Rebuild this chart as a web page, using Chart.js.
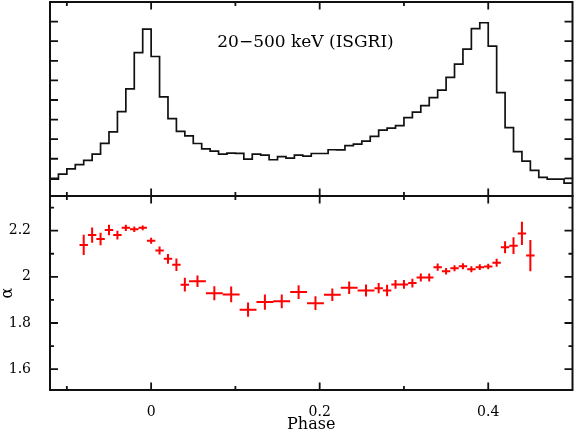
<!DOCTYPE html>
<html>
<head>
<meta charset="utf-8">
<script src="https://cdn.jsdelivr.net/npm/chart.js@4"></script>
<style>
html,body{margin:0;padding:0;background:#fff;overflow:hidden}
#wrap{position:relative;width:574px;height:431px;background:#fff}
#c1{position:absolute;left:0;top:0}
#c2{position:absolute;left:0;top:192px}
</style>
</head>
<body>
<div id="wrap">
<canvas id="c1" width="574" height="200"></canvas>
<canvas id="c2" width="574" height="239"></canvas>
</div>
<script>
// ---------- data ----------
const panelTitle = '20\u2212500 keV (ISGRI)';
const xAxisTitle = 'Phase';
const yAxisTitle = '\u03b1';

const phaseMin = -0.12;
const phaseMax = 0.5;

// light curve (histogram), bin lower edges and relative rate
const histPhaseLo = [-0.12,-0.11,-0.10,-0.09,-0.08,-0.07,-0.06,-0.05,-0.04,-0.03,-0.02,-0.01,
  0.00,0.01,0.02,0.03,0.04,0.05,0.06,0.07,0.08,0.09,0.10,0.11,0.12,0.13,0.14,0.15,0.16,0.17,0.18,0.19,
  0.20,0.21,0.22,0.23,0.24,0.25,0.26,0.27,0.28,0.29,0.30,0.31,0.32,0.33,0.34,0.35,0.36,0.37,0.38,0.39,
  0.40,0.41,0.42,0.43,0.44,0.45,0.46,0.47,0.48,0.49];
const histEdgeHi = 0.5;
const histRate = [0.96,1.22,1.48,1.70,1.92,2.24,2.79,3.37,4.41,5.57,7.42,8.62,
  7.22,5.16,4.05,3.40,3.17,2.78,2.50,2.39,2.24,2.29,2.28,1.98,2.24,2.19,1.95,2.11,2.03,2.19,2.13,2.27,
  2.27,2.46,2.45,2.67,2.75,2.90,3.14,3.46,3.56,3.69,4.10,4.38,4.71,5.12,5.50,6.15,6.83,7.60,8.64,8.94,
  7.75,5.38,3.59,2.36,1.88,1.41,1.05,0.96,0.96,0.76];
const rateMin = 0.1, rateMax = 10;
const rateTicks = [1,2,3,4,5,6,7,8,9];

// photon index alpha vs phase
const alphaPhase = [-0.08,-0.07,-0.06,-0.05,-0.04,-0.03,-0.02,-0.01,0.00,0.01,0.02,0.03,0.04,
  0.055,0.075,0.095,0.115,0.135,0.155,0.175,0.195,0.215,0.235,0.255,
  0.27,0.28,0.29,0.30,0.31,0.32,0.33,0.34,0.35,0.36,0.37,0.38,0.39,0.40,0.41,0.42,0.43,0.44,0.45];
const alphaPhaseErr = [0.005,0.005,0.005,0.005,0.005,0.005,0.005,0.005,0.005,0.005,0.005,0.005,0.005,
  0.01,0.01,0.01,0.01,0.01,0.01,0.01,0.01,0.01,0.01,0.01,
  0.005,0.005,0.005,0.005,0.005,0.005,0.005,0.005,0.005,0.005,0.005,0.005,0.005,0.005,0.005,0.005,0.005,0.005,0.005];
const alphaValue = [2.138,2.181,2.164,2.203,2.181,2.212,2.206,2.212,2.156,2.114,2.078,2.052,1.966,
  1.981,1.929,1.924,1.858,1.891,1.894,1.934,1.886,1.922,1.953,1.941,
  1.951,1.941,1.967,1.967,1.973,1.997,1.997,2.042,2.024,2.037,2.046,2.033,2.042,2.045,2.061,2.128,2.135,2.188,2.092];
const alphaErr = [0.044,0.033,0.027,0.023,0.019,0.014,0.012,0.010,0.013,0.017,0.021,0.027,0.030,
  0.025,0.030,0.034,0.031,0.033,0.030,0.030,0.030,0.027,0.027,0.026,
  0.022,0.025,0.019,0.019,0.019,0.017,0.017,0.016,0.014,0.013,0.013,0.013,0.012,0.012,0.017,0.026,0.036,0.050,0.068];
const alphaMin = 1.51, alphaMax = 2.35;
const alphaTicks = [1.6,1.8,2,2.2];
const alphaMinorTicks = [1.7,1.9,2.1,2.3];

const phaseTicks = [0,0.2,0.4];
const phaseMinorTicks = [-0.1,0.1,0.3];

// ---------- plugins ----------
const frameTicks = {
  id: 'frameTicks',
  afterDraw(chart, args, o) {
    const {ctx, chartArea: a, scales} = chart;
    const xs = scales.x, ys = scales.y;
    ctx.save();
    ctx.strokeStyle = '#111';
    ctx.lineWidth = 1.8;
    ctx.beginPath();
    const seg = (x1, y1, x2, y2) => { ctx.moveTo(x1, y1); ctx.lineTo(x2, y2); };
    [[o.xMajor, o.xMajorLen], [o.xMinor, o.xMinorLen]].forEach(([vals, len]) => {
      vals.forEach(v => {
        const p = xs.getPixelForValue(v);
        seg(p, a.top, p, a.top + len);
        seg(p, a.bottom, p, a.bottom - len);
      });
    });
    [[o.yMajor, o.yMajorLen], [o.yMinor, o.yMinorLen]].forEach(([vals, len]) => {
      vals.forEach(v => {
        const p = ys.getPixelForValue(v);
        seg(a.left, p, a.left + len, p);
        seg(a.right, p, a.right - len, p);
      });
    });
    ctx.stroke();
    ctx.lineWidth = 2;
    ctx.strokeRect(a.left, a.top, a.right - a.left, a.bottom - a.top);
    ctx.restore();
  }
};

const panelLabel = {
  id: 'panelLabel',
  afterDraw(chart, args, o) {
    const ctx = chart.ctx;
    ctx.save();
    ctx.fillStyle = '#000';
    ctx.font = o.font;
    ctx.textAlign = 'center';
    ctx.textBaseline = 'alphabetic';
    ctx.fillText(o.text, o.x, o.y);
    ctx.restore();
  }
};

const errorBars = {
  id: 'errorBars',
  afterDatasetsDraw(chart) {
    const {ctx, scales} = chart;
    const xs = scales.x, ys = scales.y;
    ctx.save();
    ctx.strokeStyle = '#ff0000';
    ctx.lineWidth = 2;
    ctx.beginPath();
    alphaPhase.forEach((p, i) => {
      const y = ys.getPixelForValue(alphaValue[i]);
      const x = xs.getPixelForValue(p);
      ctx.moveTo(xs.getPixelForValue(p - alphaPhaseErr[i]), y);
      ctx.lineTo(xs.getPixelForValue(p + alphaPhaseErr[i]), y);
      ctx.moveTo(x, ys.getPixelForValue(alphaValue[i] - alphaErr[i]));
      ctx.lineTo(x, ys.getPixelForValue(alphaValue[i] + alphaErr[i]));
    });
    ctx.stroke();
    ctx.restore();
  }
};

const serif = '"DejaVu Serif", "Liberation Serif", serif';

// ---------- top chart: light curve ----------
const histData = histPhaseLo.map((x, i) => ({x: x, y: histRate[i]}));
histData.push({x: histEdgeHi, y: histRate[histRate.length - 1]});

new Chart(document.getElementById('c1'), {
  type: 'line',
  data: {datasets: [{
    data: histData,
    stepped: 'before',
    borderColor: '#111',
    borderWidth: 1.7,
    pointRadius: 0,
    fill: false
  }]},
  options: {
    responsive: false,
    animation: false,
    layout: {padding: {left: 50, right: 1.5, top: 2, bottom: 4}},
    plugins: {
      legend: {display: false},
      tooltip: {enabled: false},
      frameTicks: {xMajor: phaseTicks, xMinor: phaseMinorTicks, xMajorLen: 7.5, xMinorLen: 4,
                   yMajor: rateTicks, yMinor: [], yMajorLen: 8, yMinorLen: 4},
      panelLabel: {text: panelTitle, font: '17px ' + serif, x: 305.5, y: 47}
    },
    scales: {
      x: {type: 'linear', min: phaseMin, max: phaseMax, display: false},
      y: {type: 'linear', min: rateMin, max: rateMax, display: false}
    }
  },
  plugins: [frameTicks, panelLabel]
});

// ---------- bottom chart: alpha ----------
new Chart(document.getElementById('c2'), {
  type: 'scatter',
  data: {datasets: [{
    data: alphaPhase.map((x, i) => ({x: x, y: alphaValue[i]})),
    pointRadius: 0,
    showLine: false
  }]},
  options: {
    responsive: false,
    animation: false,
    layout: {padding: {left: 0, right: 1.5, top: 4, bottom: 0}},
    plugins: {
      legend: {display: false},
      tooltip: {enabled: false},
      frameTicks: {xMajor: phaseTicks, xMinor: phaseMinorTicks, xMajorLen: 7.5, xMinorLen: 4,
                   yMajor: alphaTicks, yMinor: alphaMinorTicks, yMajorLen: 8, yMinorLen: 4}
    },
    scales: {
      x: {
        type: 'linear', min: phaseMin, max: phaseMax,
        grid: {display: false}, border: {display: false},
        afterBuildTicks: s => { s.ticks = phaseTicks.map(v => ({value: v})); },
        afterFit: s => { s.height = 41; s.paddingLeft = 0; s.paddingRight = 0; },
        ticks: {color: '#000', padding: 6, maxRotation: 0, autoSkip: false,
                font: {family: serif, size: 14}, callback: v => String(v)},
        title: {display: true, text: xAxisTitle, color: '#000',
                font: {family: serif, size: 16, lineHeight: 0.75}, padding: {top: 0, bottom: 0}}
      },
      y: {
        type: 'linear', min: alphaMin, max: alphaMax,
        grid: {display: false}, border: {display: false},
        afterBuildTicks: s => { s.ticks = alphaTicks.map(v => ({value: v})); },
        afterFit: s => { s.width = 50; s.paddingTop = 0; s.paddingBottom = 0; },
        ticks: {color: '#000', padding: 11, autoSkip: false,
                font: {family: serif, size: 14}, callback: v => String(v)},
        title: {display: true, text: yAxisTitle, color: '#000',
                font: {family: serif, size: 16, lineHeight: 1}, padding: {top: 0, bottom: 0}}
      }
    }
  },
  plugins: [frameTicks, errorBars]
});
</script>
</body>
</html>
